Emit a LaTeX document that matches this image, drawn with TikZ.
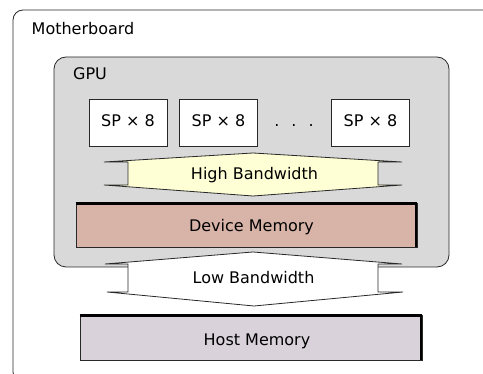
\documentclass[tikz,border=0pt]{standalone}
\usepackage{fontspec}
\setmainfont{DejaVu Sans}
\definecolor{gpugray}{RGB}{217,217,217}
\definecolor{devfill}{RGB}{216,180,168}
\definecolor{hostfill}{RGB}{217,210,218}
\definecolor{hiyellow}{RGB}{255,255,214}
\definecolor{edge}{RGB}{40,40,40}
\tikzset{
  outline/.style={draw=edge, line width=0.8pt},
  lbl/.style={font=\fontsize{16}{19}\selectfont, inner sep=0pt, anchor=base},
  lblw/.style={font=\fontsize{16}{19}\selectfont, inner sep=0pt, anchor=base west},
  spbox/.style={outline, fill=white, rectangle, minimum width=78pt, minimum height=47pt, inner sep=0pt},
  membox/.style={outline, rectangle, inner sep=0pt},
  heavyedge/.style={draw=black, line width=2.6pt, line cap=butt, line join=miter},
  bandarrow/.style={draw=edge, line width=0.8pt, line join=miter}
}
\begin{document}
\begin{tikzpicture}[x=1pt,y=-1pt]
\useasboundingbox (0,0) rectangle (483,374);
\clip (0,0) rectangle (483,374);
% Motherboard
\node[outline, fill=white, rectangle, rounded corners=10pt, minimum width=487pt, minimum height=372pt, inner sep=0pt] (mb) at (256.5,196) {};
\node[lblw] (mblbl) at (31.5,35) {Motherboard};
% GPU
\node[outline, fill=gpugray, rectangle, rounded corners=12pt, minimum width=395pt, minimum height=210pt, inner sep=0pt] (gpu) at (251.5,162) {};
\node[lblw] (gpulbl) at (73,80) {GPU};
% SP boxes
\node[spbox] (sp1) at (128,122.5) {};
\node[spbox] (sp2) at (218.5,122.5) {};
\node[spbox] (sp3) at (370.5,122.5) {};
\node[lbl] (sp1t) at (128,126.7) {SP × 8};
\node[lbl] (sp2t) at (218.5,126.7) {SP × 8};
\node[lbl] (sp3t) at (370.5,126.7) {SP × 8};
\node[lbl] (dots) at (294,127) {.\hspace{12pt}.\hspace{12pt}.};
% High bandwidth arrow
\draw[bandarrow, fill=hiyellow] (104,162) -- (253,153) -- (402,162) -- (378,162) -- (378,185) -- (402,185) -- (253,196) -- (104,185) -- (128,185) -- (128,162) -- cycle;
\node[lbl] (hbw) at (254.5,180) {High Bandwidth};
% Device memory
\node[membox, fill=devfill, minimum width=341pt, minimum height=44pt] (dev) at (246.5,225) {};
\draw[heavyedge] ([yshift=-0.9pt]dev.north west) -- ([xshift=-1.3pt,yshift=-0.9pt]dev.north east) -- ([xshift=-1.3pt]dev.south east);
\node[lbl] (devlbl) at (251.5,231.7) {Device Memory};
% Low bandwidth arrow
\draw[bandarrow, fill=white] (105,264) -- (253,252) -- (402,264) -- (378,264) -- (378,292) -- (403,292) -- (254,306) -- (107,292) -- (128,292) -- (128,264) -- cycle;
\node[lbl] (lbw) at (253.5,283.3) {Low Bandwidth};
% Host memory
\node[membox, fill=hostfill, minimum width=342pt, minimum height=45pt] (host) at (251,337.5) {};
\draw[heavyedge] ([yshift=-0.9pt]host.north west) -- ([xshift=-1.3pt,yshift=-0.9pt]host.north east) -- ([xshift=-1.3pt]host.south east);
\node[lbl] (hostlbl) at (257,346) {Host Memory};
\end{tikzpicture}
\end{document}
